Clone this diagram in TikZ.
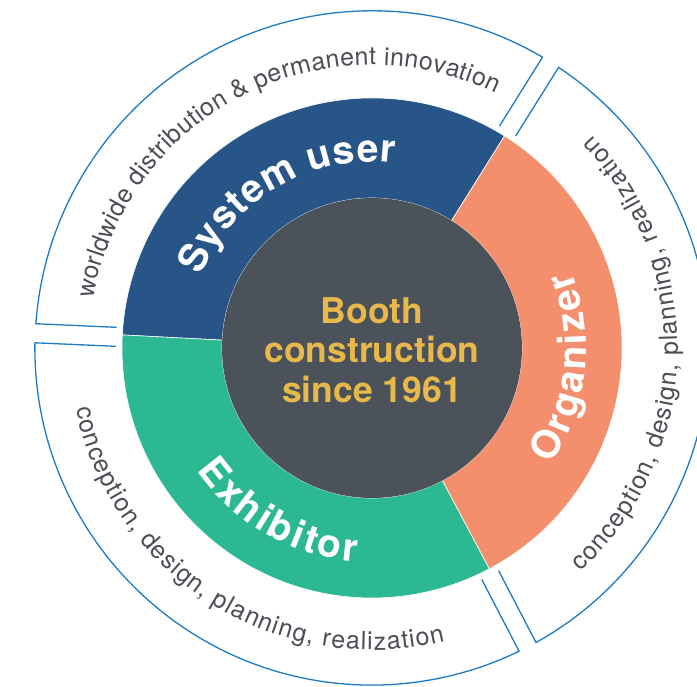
\documentclass[tikz,border=0pt]{standalone}
\usepackage{fontspec}
\setmainfont{TeX Gyre Heros}
\usetikzlibrary{calc,decorations.text}

\definecolor{useblue}{HTML}{275587}
\definecolor{orgsalmon}{HTML}{F48F6E}
\definecolor{exhgreen}{HTML}{2DB894}
\definecolor{coregray}{HTML}{4B5259}
\definecolor{coreyellow}{HTML}{E8B84A}
\definecolor{frameblue}{HTML}{1C7BC4}
\definecolor{labelgray}{HTML}{4A4F56}

\begin{document}
\begin{tikzpicture}[x = 1pt, y = 1pt,
  frame/.style = {draw = frameblue, line width = 1.3pt},
  sector/.style = {draw = white, line width = 0.6pt},
  outerlabel/.style = {decorate, decoration = {text along path, text color = labelgray,
    text align = {fit to path}, text = {|\fontsize{25}{30}\selectfont|#1}}},
  ringlabel/.style = {decorate, decoration = {text along path, text color = white,
    text align = {fit to path}, text = {|\fontsize{39}{44}\selectfont\bfseries|#1}}}]
\useasboundingbox (-372,-339) rectangle (325,348);
\clip (-372,-339) rectangle (325,348);
% ring
\filldraw[sector, fill = useblue] (58:150) -- (58:250) arc[start angle = 58, end angle = 177, radius = 250]
  -- (177:150) arc[start angle = 177, end angle = 58, radius = 150] -- cycle;
\filldraw[sector, fill = exhgreen] (177:150) -- (177:250) arc[start angle = 177, end angle = 298, radius = 250]
  -- (298:150) arc[start angle = 298, end angle = 177, radius = 150] -- cycle;
\filldraw[sector, fill = orgsalmon] (298:150) -- (298:250) arc[start angle = 298, end angle = 418, radius = 250]
  -- (418:150) arc[start angle = 418, end angle = 298, radius = 150] -- cycle;
\fill[coregray] (0,0) circle[radius = 150];
\node (core) at (0,-2) [align = center, text = coreyellow,
  font = \fontsize{35.5}{39.5}\selectfont\bfseries] {Booth\\construction\\since 1961};
% outer frames
\foreach \a/\b in {58/177.5, 177.5/297.5, 297.5/418}
  \draw[frame] ($(\a:256)!9.5pt!90:(\a:337)$) -- ($(\a:337)!9.5pt!-90:(\a:256)$)
    arc[start angle = \a+1.6, end angle = \b-1.6, radius = 337]
    -- ($(\b:256)!9.5pt!-90:(\b:337)$);
% labels
\path[ringlabel = {System user}] (157:186) arc[start angle = 157, end angle = 83, radius = 186];
\path[ringlabel = {Exhibitor}] (215:214) arc[start angle = 215, end angle = 266, radius = 214];
\path[ringlabel = {Organizer}] (-33:214) arc[start angle = -33, end angle = 21, radius = 214];
\path[outerlabel = {worldwide distribution {\&} permanent innovation}]
  (170:283) arc[start angle = 170, end angle = 64, radius = 283];
\path[outerlabel = {conception, design, planning, realization}]
  (191.5:302) arc[start angle = 191.5, end angle = 284, radius = 302];
\path[outerlabel = {conception, design, planning, realization}]
  (-47:306) arc[start angle = -47, end angle = 44, radius = 306];
\end{tikzpicture}
\end{document}
